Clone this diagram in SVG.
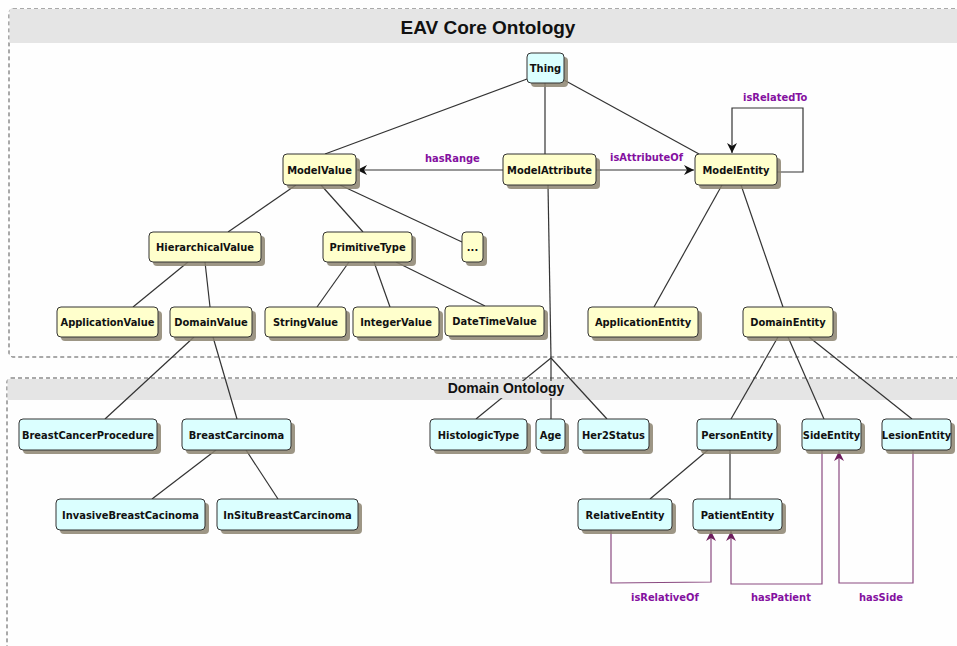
<svg xmlns="http://www.w3.org/2000/svg" width="957" height="646" viewBox="0 0 957 646">
<style>
.frame{fill:#fefefe;stroke:#555;stroke-width:1;stroke-dasharray:4 3}
.hdr{fill:#e5e5e5}
.ttl{font-family:"Liberation Sans",Arial,sans-serif;font-weight:bold;fill:#111;text-anchor:middle}
.n rect.b{stroke:#333;stroke-width:1}
.n rect.s{fill:#8c8470;opacity:0.85}
.y rect.b{fill:#ffffcc}
.c rect.b{fill:#dbffff}
.n text{font-family:"DejaVu Sans Condensed","DejaVu Sans",sans-serif;font-stretch:condensed;font-weight:bold;font-size:11px;fill:#111;text-anchor:middle}
.e{stroke:#333;stroke-width:1.2;fill:none}
.p{stroke:#8a4a80;stroke-width:1.2;fill:none}
.lbl{font-family:"DejaVu Sans Condensed","DejaVu Sans",sans-serif;font-stretch:condensed;font-weight:bold;font-size:11px;fill:#8410a0}
</style>
<defs>
<marker id="ab" viewBox="0 0 10 10" refX="10" refY="5" markerWidth="10" markerHeight="10" markerUnits="userSpaceOnUse" orient="auto">
<path d="M0,0 L10,5 L0,10 L3,5 Z" fill="#111"/>
</marker>
<marker id="ap" viewBox="0 0 10 10" refX="10" refY="5" markerWidth="10" markerHeight="10" markerUnits="userSpaceOnUse" orient="auto">
<path d="M0,0 L10,5 L0,10 L3,5 Z" fill="#6e1e5e"/>
</marker>
</defs>
<rect width="957" height="646" fill="#fefefe"/>
<g id="frame-eav">
<rect class="frame" x="9" y="9" width="960" height="348" rx="4"/>
<rect class="hdr" x="9.5" y="9" width="960" height="34"/>
<text class="ttl" x="488" y="34" font-size="19">EAV Core Ontology</text>
</g>
<g id="frame-domain">
<rect class="frame" x="7" y="378" width="960" height="290" rx="4"/>
<rect class="hdr" x="7.5" y="379" width="960" height="21"/>
</g>
<g id="connectors">
<line class="e" x1="527" y1="79" x2="325" y2="154"/>
<line class="e" x1="545" y1="83" x2="545" y2="154"/>
<line class="e" x1="564" y1="80" x2="699" y2="154"/>
<line class="e" x1="503" y1="170" x2="357" y2="170" marker-end="url(#ab)"/>
<line class="e" x1="596" y1="170" x2="694" y2="170" marker-end="url(#ab)"/>
<polyline class="e" points="777,172 803,172 803,108 732,108 732,153" marker-end="url(#ab)"/>
<line class="e" x1="296" y1="185" x2="228" y2="232"/>
<line class="e" x1="321" y1="185" x2="363" y2="232"/>
<line class="e" x1="340" y1="185" x2="462" y2="242"/>
<line class="e" x1="188" y1="262" x2="133" y2="307"/>
<line class="e" x1="205" y1="262" x2="210" y2="307"/>
<line class="e" x1="349" y1="262" x2="317" y2="307"/>
<line class="e" x1="374" y1="262" x2="390" y2="307"/>
<line class="e" x1="396" y1="262" x2="485" y2="306"/>
<line class="e" x1="722" y1="185" x2="654" y2="307"/>
<line class="e" x1="741" y1="185" x2="783" y2="307"/>
<line class="e" x1="548" y1="185" x2="551" y2="358"/>
<line class="e" x1="551" y1="358" x2="476" y2="419"/>
<line class="e" x1="551" y1="358" x2="551" y2="419"/>
<line class="e" x1="551" y1="358" x2="607" y2="419"/>
<line class="e" x1="194" y1="337" x2="105" y2="419"/>
<line class="e" x1="213" y1="337" x2="237" y2="419"/>
<line class="e" x1="216" y1="450" x2="152" y2="499"/>
<line class="e" x1="246" y1="450" x2="278" y2="499"/>
<line class="e" x1="778" y1="337" x2="731" y2="419"/>
<line class="e" x1="788" y1="337" x2="824" y2="419"/>
<line class="e" x1="809" y1="337" x2="912" y2="419"/>
<line class="e" x1="708" y1="450" x2="650" y2="499"/>
<line class="e" x1="730" y1="450" x2="730" y2="499"/>
<polyline class="p" points="611,530 611,583 711,582 711,531" marker-end="url(#ap)"/>
<polyline class="p" points="822,450 822,584 731,584 731,531" marker-end="url(#ap)"/>
<polyline class="p" points="913,450 913,583 839,583 839,451" marker-end="url(#ap)"/>
<text class="lbl" x="425" y="162">hasRange</text>
<text class="lbl" x="610" y="161">isAttributeOf</text>
<text class="lbl" x="743" y="101">isRelatedTo</text>
<text class="lbl" x="631" y="601">isRelativeOf</text>
<text class="lbl" x="751" y="601">hasPatient</text>
<text class="lbl" x="859" y="601">hasSide</text>
</g>
<rect x="442" y="381" width="128" height="17" fill="#e5e5e5"/>
<text class="ttl" x="506" y="393" font-size="14">Domain Ontology</text>
<g id="Thing" class="n c"><rect class="s" x="531" y="57" width="37" height="30" rx="4"/><rect class="b" x="527" y="53" width="37" height="30" rx="4"/><text x="545.5" y="72">Thing</text></g>
<g id="ModelValue" class="n y"><rect class="s" x="287" y="158" width="73" height="31" rx="4"/><rect class="b" x="283" y="154" width="73" height="31" rx="4"/><text x="319.5" y="173.5">ModelValue</text></g>
<g id="ModelAttribute" class="n y"><rect class="s" x="507" y="158" width="93" height="31" rx="4"/><rect class="b" x="503" y="154" width="93" height="31" rx="4"/><text x="549.5" y="173.5">ModelAttribute</text></g>
<g id="ModelEntity" class="n y"><rect class="s" x="699" y="158" width="82" height="31" rx="4"/><rect class="b" x="695" y="154" width="82" height="31" rx="4"/><text x="736" y="173.5">ModelEntity</text></g>
<g id="HierarchicalValue" class="n y"><rect class="s" x="153" y="236" width="112" height="30" rx="4"/><rect class="b" x="149" y="232" width="112" height="30" rx="4"/><text x="205" y="251">HierarchicalValue</text></g>
<g id="PrimitiveType" class="n y"><rect class="s" x="327" y="236" width="89" height="30" rx="4"/><rect class="b" x="323" y="232" width="89" height="30" rx="4"/><text x="367.5" y="251">PrimitiveType</text></g>
<g id="Ellipsis" class="n y"><rect class="s" x="466" y="236" width="21" height="30" rx="4"/><rect class="b" x="462" y="232" width="21" height="30" rx="4"/><text x="472.5" y="251">...</text></g>
<g id="ApplicationValue" class="n y"><rect class="s" x="61" y="311" width="101" height="30" rx="4"/><rect class="b" x="57" y="307" width="101" height="30" rx="4"/><text x="107.5" y="326">ApplicationValue</text></g>
<g id="DomainValue" class="n y"><rect class="s" x="174" y="311" width="82" height="30" rx="4"/><rect class="b" x="170" y="307" width="82" height="30" rx="4"/><text x="211" y="326">DomainValue</text></g>
<g id="StringValue" class="n y"><rect class="s" x="269" y="311" width="81" height="30" rx="4"/><rect class="b" x="265" y="307" width="81" height="30" rx="4"/><text x="305.5" y="326">StringValue</text></g>
<g id="IntegerValue" class="n y"><rect class="s" x="357" y="311" width="86" height="30" rx="4"/><rect class="b" x="353" y="307" width="86" height="30" rx="4"/><text x="396" y="326">IntegerValue</text></g>
<g id="DateTimeValue" class="n y"><rect class="s" x="449" y="310" width="99" height="30" rx="4"/><rect class="b" x="445" y="306" width="99" height="30" rx="4"/><text x="494.5" y="325">DateTimeValue</text></g>
<g id="ApplicationEntity" class="n y"><rect class="s" x="592" y="311" width="110" height="30" rx="4"/><rect class="b" x="588" y="307" width="110" height="30" rx="4"/><text x="643" y="326">ApplicationEntity</text></g>
<g id="DomainEntity" class="n y"><rect class="s" x="747" y="311" width="90" height="30" rx="4"/><rect class="b" x="743" y="307" width="90" height="30" rx="4"/><text x="788" y="326">DomainEntity</text></g>
<g id="BreastCancerProcedure" class="n c"><rect class="s" x="23" y="423" width="138" height="31" rx="4"/><rect class="b" x="19" y="419" width="138" height="31" rx="4"/><text x="88" y="438.5">BreastCancerProcedure</text></g>
<g id="BreastCarcinoma" class="n c"><rect class="s" x="186" y="423" width="109" height="31" rx="4"/><rect class="b" x="182" y="419" width="109" height="31" rx="4"/><text x="236.5" y="438.5">BreastCarcinoma</text></g>
<g id="InvasiveBreastCacinoma" class="n c"><rect class="s" x="60" y="503" width="149" height="31" rx="4"/><rect class="b" x="56" y="499" width="149" height="31" rx="4"/><text x="130.5" y="518.5">InvasiveBreastCacinoma</text></g>
<g id="InSituBreastCarcinoma" class="n c"><rect class="s" x="221" y="503" width="141" height="31" rx="4"/><rect class="b" x="217" y="499" width="141" height="31" rx="4"/><text x="287.5" y="518.5">InSituBreastCarcinoma</text></g>
<g id="HistologicType" class="n c"><rect class="s" x="434" y="423" width="97" height="31" rx="4"/><rect class="b" x="430" y="419" width="97" height="31" rx="4"/><text x="478.5" y="438.5">HistologicType</text></g>
<g id="Age" class="n c"><rect class="s" x="540" y="423" width="29" height="31" rx="4"/><rect class="b" x="536" y="419" width="29" height="31" rx="4"/><text x="550.5" y="438.5">Age</text></g>
<g id="Her2Status" class="n c"><rect class="s" x="582" y="423" width="71" height="31" rx="4"/><rect class="b" x="578" y="419" width="71" height="31" rx="4"/><text x="613.5" y="438.5">Her2Status</text></g>
<g id="PersonEntity" class="n c"><rect class="s" x="701" y="423" width="80" height="31" rx="4"/><rect class="b" x="697" y="419" width="80" height="31" rx="4"/><text x="737" y="438.5">PersonEntity</text></g>
<g id="SideEntity" class="n c"><rect class="s" x="806" y="423" width="59" height="31" rx="4"/><rect class="b" x="802" y="419" width="59" height="31" rx="4"/><text x="831.5" y="438.5">SideEntity</text></g>
<g id="LesionEntity" class="n c"><rect class="s" x="886" y="423" width="69" height="31" rx="4"/><rect class="b" x="882" y="419" width="69" height="31" rx="4"/><text x="916.5" y="438.5">LesionEntity</text></g>
<g id="RelativeEntity" class="n c"><rect class="s" x="582" y="503" width="94" height="31" rx="4"/><rect class="b" x="578" y="499" width="94" height="31" rx="4"/><text x="625" y="518.5">RelativeEntity</text></g>
<g id="PatientEntity" class="n c"><rect class="s" x="697" y="503" width="89" height="31" rx="4"/><rect class="b" x="693" y="499" width="89" height="31" rx="4"/><text x="737.5" y="518.5">PatientEntity</text></g>
</svg>
